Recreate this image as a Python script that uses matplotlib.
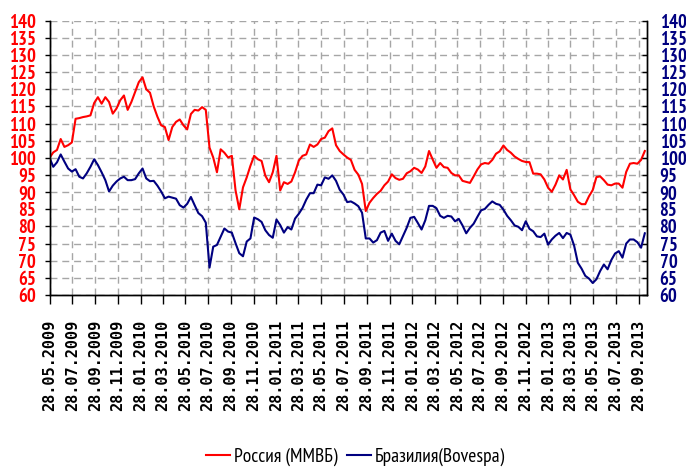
import pandas as pd
import matplotlib
matplotlib.use('Agg')
from matplotlib import pyplot as plt
from matplotlib import font_manager
from matplotlib.lines import Line2D

plt.rcParams['lines.scale_dashes'] = False

# index values read every 10 days starting 28.05.2009
start = '2009-05-28'
russia = [100, 101.6, 102.3, 105.5, 103.2, 103.7, 104.5, 111.4, 111.6, 111.9,
          112.1, 112.4, 116, 117.7, 115.8, 117.7, 116.3, 112.9, 114.4, 116.8,
          118.2, 114.0, 116.3, 119.2, 122.1, 123.5, 120, 119, 115, 112,
          109.5, 109, 105.2, 109.0, 110.5, 111.2, 109.5, 108.3, 112.8, 114.0,
          113.8, 114.8, 114.0, 103, 100.1, 95.8, 102.5, 101.5, 100.1, 100.6,
          90.5, 85, 91.4, 94.3, 97.7, 100.6, 99.6, 99.1, 94.8, 92.9,
          95.8, 100.6, 90.5, 92.9, 92.4, 93.1, 95.8, 99.2, 100.6, 101.0,
          103.9, 103.2, 103.9, 105.5, 105.9, 107.8, 108.6, 103.7, 102.0, 101.0,
          100.1, 99.4, 96.5, 95.1, 92.4, 84.5, 86.9, 88.3, 89.5, 90.4,
          92.0, 93.1, 95.2, 94.1, 93.6, 93.9, 95.5, 96.1, 97.1, 96.6,
          95.6, 97.5, 102.0, 99.5, 97.1, 98.5, 97.3, 97.1, 95.6, 94.9,
          94.9, 93.3, 93.0, 92.7, 94.6, 96.6, 98.1, 98.5, 98.3, 99.4,
          101.2, 101.9, 103.6, 102.3, 101.5, 100.4, 99.7, 99.1, 98.8, 98.75,
          95.4, 95.4, 95.2, 93.7, 91.3, 90.1, 92.2, 94.9, 93.7, 96.5,
          90.8, 89.1, 87.2, 86.5, 86.5, 88.8, 90.6, 94.4, 94.6, 93.5,
          92.2, 92.0, 92.5, 92.5, 91.3, 95.9, 98.3, 98.5, 98.3, 99.4,
          102.0]
brazil = [100, 97.4, 98.7, 101.0, 98.9, 96.9, 96.0, 96.7, 94.5, 94.0,
          95.5, 97.4, 99.6, 97.9, 95.8, 93.5, 90.2, 91.9, 93.1, 94.0,
          94.5, 93.5, 93.5, 93.8, 95.5, 96.9, 94.0, 93.2, 93.3, 91.9,
          90.2, 88.2, 88.7, 88.4, 88.1, 86.2, 85.5, 86.6, 88.6, 86.2,
          83.9, 83.0, 81.1, 68, 74.1, 74.6, 77.0, 79.4, 78.5, 78.2,
          75.1, 72.2, 71.3, 75.6, 76.5, 82.6, 82.1, 81.3, 78.9, 77.5,
          76.7, 82.0, 80.4, 78.2, 79.8, 79.1, 82.3, 83.7, 85.4, 87.8,
          89.7, 89.7, 92.2, 92.0, 94.3, 93.9, 94.9, 93.3, 90.7, 89.3,
          87.1, 87.3, 86.7, 85.9, 84.0, 76.5, 76.5, 75.3, 76.0, 78.2,
          78.7, 75.8, 77.9, 75.8, 74.8, 77.2, 79.6, 82.5, 82.8, 81.0,
          79.1, 81.8, 86.0, 86.0, 85.3, 83.1, 82.5, 83.1, 82.9, 81.5,
          82.2, 80.3, 78.0, 79.6, 80.8, 82.8, 84.7, 85.1, 86.3, 87.3,
          86.6, 86.3, 84.9, 83.1, 81.8, 80.3, 79.9, 78.9, 81.5, 79.3,
          78.6, 77.1, 76.9, 77.9, 74.7, 76.2, 77.3, 78.1, 76.6, 78.1,
          77.6, 74.4, 69.4, 67.7, 65.6, 64.8, 63.5, 64.6, 67.0, 68.9,
          67.5, 70.2, 72.1, 72.8, 70.9, 75.0, 76.2, 76.2, 75.4, 73.8,
          78.0]
labels = ['Россия (ММВБ)', 'Бразилия(Bovespa)']
y_ticks = list(range(60, 145, 5))

dates = pd.date_range(start, periods=len(russia), freq='10D')
tick_dates = pd.date_range(start, '2013-09-28', freq=pd.DateOffset(months=2))

red = '#FF0000'
navy = '#000080'

# a narrow face with cyrillic, if one is around
avail = {f.name for f in font_manager.fontManager.ttflist}
narrow_name = next((n for n in ['Liberation Sans Narrow', 'Arial Narrow', 'PT Sans Narrow',
                                'Roboto Condensed', 'Fira Sans Condensed', 'Open Sans Condensed',
                                'Archivo Narrow'] if n in avail), 'DejaVu Sans')
narrow = [narrow_name, 'DejaVu Sans']

fig = plt.figure(figsize=(6.86, 4.70), dpi=100)
ax = fig.add_axes([0.0722, 0.3723, 0.871, 0.5836])
ax2 = ax.twinx()

ax.plot(dates, russia, color=red, lw=1.5)
ax2.plot(dates, brazil, color=navy, lw=1.5)

ax.set_xlim(pd.Timestamp(start), pd.Timestamp(start) + pd.Timedelta(days=1606))
ax.set_xticks(tick_dates, labels=[d.strftime('%d.%m.%Y') for d in tick_dates],
              rotation=90, fontfamily='DejaVu Sans Mono', fontweight='bold', fontsize=11)

ax.set_ylim(60, 140)
ax2.set_ylim(60, 140)
ax.set_yticks(y_ticks, labels=[str(v) for v in y_ticks],
              fontfamily=narrow, fontweight='bold', fontsize=13.4)
ax2.set_yticks(y_ticks, labels=[str(v) for v in y_ticks],
               fontfamily=narrow, fontweight='bold', fontsize=13.4)

ax.grid(True, color='#a6a6a6', lw=1, linestyle=(0, (5, 3.5)))
ax.set_axisbelow(True)

ax.tick_params(axis='x', direction='out', length=6.5, width=1, pad=11)
ax.tick_params(axis='y', direction='out', length=3.6, width=1, pad=6, labelcolor=red)
ax2.tick_params(axis='y', direction='in', length=3.6, width=1, pad=9, labelcolor=navy)

for a in (ax, ax2):
    a.spines['top'].set_visible(False)
    for s in ('left', 'right', 'bottom'):
        a.spines[s].set_linewidth(1)

handles = [Line2D([], [], color=red, lw=1.5), Line2D([], [], color=navy, lw=1.5)]
fig.legend(handles, labels, loc='center', bbox_to_anchor=(0.518, 0.028), ncol=2,
           frameon=False, prop={'family': narrow, 'size': 14},
           handlelength=1.24, handletextpad=0.2, columnspacing=0.5)

fig.savefig('out.png', dpi=100)
